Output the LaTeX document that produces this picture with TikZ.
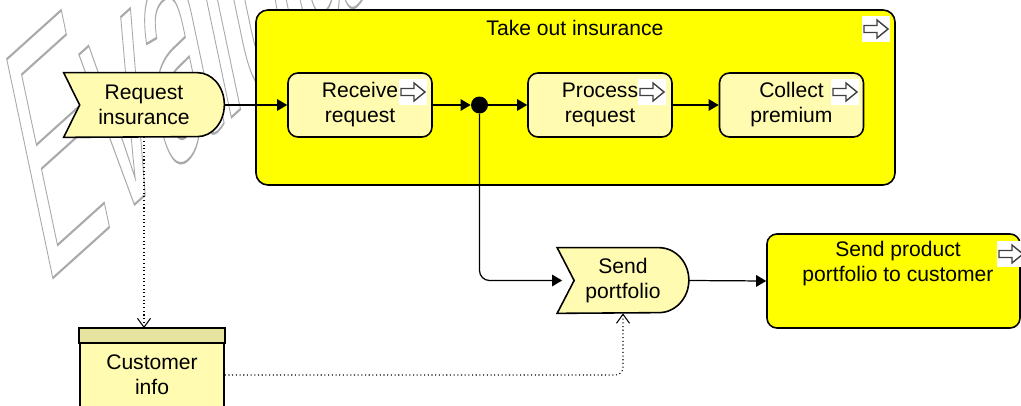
\documentclass[tikz,border=0pt]{standalone}
\usepackage{fontspec}
\setmainfont{Liberation Sans}
\usetikzlibrary{arrows.meta,backgrounds}

\definecolor{boxyellow}{RGB}{255,255,0}
\definecolor{paleyellow}{RGB}{255,251,176}
\definecolor{headyellow}{RGB}{230,228,160}
\definecolor{markgray}{RGB}{170,170,170}

\pgfdeclarelayer{mark}
\pgfsetlayers{mark,background,main}

\tikzset{
  txt/.style={align=center,font=\fontsize{12}{14.2}\selectfont,inner sep=0pt},
  func/.style={txt,draw,line width=0.9pt,fill=paleyellow,rounded corners=2mm,
    minimum width=28.8mm,minimum height=12.8mm},
  bigbox/.style={draw,line width=0.9pt,fill=boxyellow,rounded corners=2.4mm},
  evnode/.style={txt,minimum height=12.8mm},
  evline/.style={draw,line width=0.9pt,fill=paleyellow},
  flow/.style={line width=0.7pt,-{Triangle[length=2mm,width=2.3mm]}},
  infoflow/.style={line width=0.6pt,dash pattern=on 0.6pt off 1.5pt,
    -{Straight Barb[length=1.8mm,width=2.6mm]}},
  watermark/.style={anchor=base west,inner sep=0pt,transform shape,text=markgray,
    rotate=42,xslant=0.58,yscale=2.0,font=\fontsize{80}{80}\selectfont}
}

% hollow letters (stroke only)
\newcommand{\hollow}[1]{\special{pdf:literal direct 1 Tr 0.6 w}#1\special{pdf:literal direct 0 Tr}}

% event outline: node, notch depth, arc x radius, arc y radius
\newcommand{\evoutline}[4]{%
  \draw[evline] (#1.north west) -- ([xshift=-#3]#1.north east)
    arc[start angle=90,end angle=-90,x radius=#3,y radius=#4]
    -- (#1.south west) -- ([xshift=#2]#1.west) -- cycle;}

% small white flag with hollow arrow, centre in pixels
\newcommand{\flagicon}[2]{%
  \fill[white] (#1-14,#2-13) rectangle (#1+14,#2+13);
  \draw[line width=0.8pt,black!75,line join=miter]
    (#1-12,#2-3.5) -- (#1+1,#2-3.5) -- (#1+1,#2-9) -- (#1+12,#2) --
    (#1+1,#2+9) -- (#1+1,#2+3.5) -- (#1-12,#2+3.5) -- cycle;}

\begin{document}
\begin{tikzpicture}[x=0.2mm,y=-0.2mm]
\useasboundingbox (0,0) rectangle (1021,406);

% watermark
\begin{pgfonlayer}{mark}
\node[watermark] (evalmark) at (44,286) {\hollow{Evaluation}};
\end{pgfonlayer}

% process frame
\node[bigbox,minimum width=127.8mm,minimum height=35mm] (take) at (575.5,97.5) {};
\node[txt] (taketitle) at (575,28) {Take out insurance};
\flagicon{876}{29}

% events
\node[evnode,minimum width=32mm] (reqins) at (144,105) {Request\\insurance};
\node[evnode,minimum width=26.2mm,minimum height=13mm] (sendp) at (623,280.5) {Send\\portfolio};
\begin{pgfonlayer}{background}
\evoutline{reqins}{3.2mm}{5.4mm}{6.4mm}
\evoutline{sendp}{3.4mm}{6mm}{6.5mm}
\end{pgfonlayer}

% functions
\node[func] (recv) at (360,105) {Receive\\request};
\node[func] (proc) at (600,105) {Process\\request};
\node[func] (coll) at (791.5,105) {Collect\\premium};
\flagicon{413}{92}
\flagicon{652}{92}
\flagicon{845}{92}

\node[circle,fill,inner sep=0pt,minimum size=3.4mm] (j) at (479.5,105) {};

\node[bigbox,rounded corners=2mm,minimum width=50.6mm,minimum height=18.8mm] (prod) at (893.5,281) {};
\node[txt] (prodtext) at (898,264) {Send product\\portfolio to customer};
\flagicon{1011}{254}

% data
\node[txt,draw,line width=0.9pt,fill=paleyellow,minimum width=28.8mm,minimum height=18.4mm]
  (cinfo) at (152,375) {Customer\\info};
\draw[line width=0.9pt,fill=headyellow] (cinfo.north west) rectangle ([yshift=-3mm]cinfo.north east);

% connectors
\draw[flow] (reqins.east) -- (recv.west);
\draw[flow] (recv.east) -- (j.west);
\draw[flow] (j.east) -- (proc.west);
\draw[flow] (proc.east) -- (coll.west);
\draw[flow,rounded corners=2mm] (j.south) |- ([xshift=1mm]sendp.west);
\draw[flow] (sendp.east) -- (prod.west);

\draw[infoflow] (reqins.south) -- (reqins.south |- cinfo.north);
\draw[infoflow,rounded corners=1.5mm] (cinfo.east) -| (sendp.south);
\end{tikzpicture}
\end{document}
